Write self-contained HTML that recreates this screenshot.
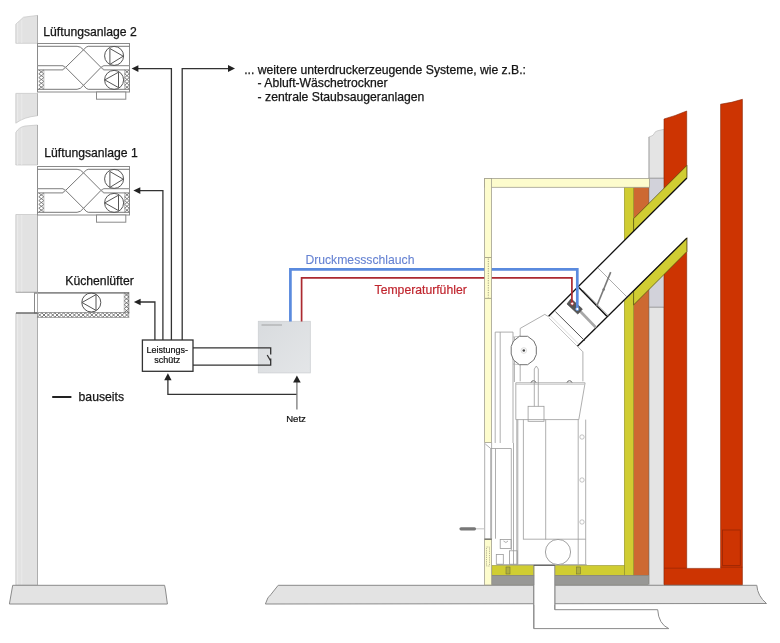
<!DOCTYPE html>
<html><head><meta charset="utf-8">
<style>
html,body{margin:0;padding:0;background:#fff;}
body{width:780px;height:643px;overflow:hidden;position:relative;}
svg{position:absolute;left:0;top:0;will-change:transform;}
text{font-family:"Liberation Sans",sans-serif;}
</style></head>
<body>
<svg width="780" height="643" viewBox="0 0 780 643">
<defs>
  <pattern id="hx" width="5" height="4" patternUnits="userSpaceOnUse">
    <path d="M0 0 L5 4 M5 0 L0 4" stroke="#777" stroke-width="0.8" fill="none"/>
  </pattern>
  <g id="unit">
    <rect x="37.5" y="0.5" width="92" height="48.5" fill="#fff" stroke="#8a8a8a" stroke-width="1"/>
    <g fill="none" stroke="#8a8a8a" stroke-width="1">
      <path d="M37.5 3.3 H77.1 Q80.5 3.3 83.5 6.8 L101 24.4 M129.5 3.3 H88.2 Q86.5 3.3 83.5 6.8 L65.6 24.4" stroke="#777"/>
      <path d="M37.5 46.3 H77.1 Q80.5 46.3 83.5 42.3 L101 24.4 M129.5 46.3 H88.2 Q86.5 46.3 83.5 42.3 L65.6 24.4" stroke="#777"/>
      <path d="M37.5 22.6 H62.5 L65.6 24.4 L62.5 26.9 H37.5 M129.5 22.6 H104 L101 24.4 L104 26.9 H129.5" stroke="#999" stroke-width="1.1"/>
    </g>
    <path d="M38.8 27.00L43.9 30.80M43.9 27.00L38.8 30.80M38.8 30.80L43.9 34.60M43.9 30.80L38.8 34.60M38.8 34.60L43.9 38.40M43.9 34.60L38.8 38.40M38.8 38.40L43.9 42.20M43.9 38.40L38.8 42.20M38.8 42.20L43.9 46.00M43.9 42.20L38.8 46.00" stroke="#666" stroke-width="0.8" fill="none"/><path d="M43.9 27 V46" stroke="#999" stroke-width="0.6"/>
    <path d="M124.6 27.00L129.3 30.80M129.3 27.00L124.6 30.80M124.6 30.80L129.3 34.60M129.3 30.80L124.6 34.60M124.6 34.60L129.3 38.40M129.3 34.60L124.6 38.40M124.6 38.40L129.3 42.20M129.3 38.40L124.6 42.20M124.6 42.20L129.3 46.00M129.3 42.20L124.6 46.00" stroke="#666" stroke-width="0.8" fill="none"/><path d="M124.6 27 V46" stroke="#999" stroke-width="0.6"/>
    <g fill="none" stroke="#555" stroke-width="1">
      <circle cx="114.1" cy="12.9" r="9.5"/>
      <path d="M109.9 5.5 L109.9 21.4 L123.2 13.2 Z"/>
      <circle cx="114.1" cy="36.9" r="9.5"/>
      <path d="M118.5 29.2 L118.5 44.6 L104.8 36.9 Z"/>
    </g>
    <rect x="96.5" y="49" width="29.3" height="7.2" fill="#fff" stroke="#8a8a8a" stroke-width="1"/>
  </g>
</defs>

<!-- ===== LEFT WALL ===== -->
<g fill="#e2e2e2" stroke="#c4c4c4" stroke-width="0.7">
  <path d="M15.8 43.3 L15.8 24.2 L23.5 17.2 L37.5 15.4 L37.5 43.3 Z"/>
  <path d="M15.8 93.4 L37.5 93.4 L37.5 115.7 Q24 117 15.8 123.2 Z"/>
  <path d="M15.8 165 L15.8 132.5 Q19 127 25 126 L37.5 125 L37.5 165 Z"/>
  <path d="M15.8 214.5 L37.5 214.5 L37.5 292.3 L15.8 292.3 Z"/>
  <path d="M15.8 313 L37.5 313 L37.5 585 L15.8 585 Z"/>
</g>
<g stroke="#ececec" stroke-width="0.8" fill="none">
  <path d="M17.6 43 V23 M21.8 43 V20 M17.6 94 V121 M21.8 94 V119.5 M17.6 165 V131 M21.8 165 V128 M17.6 215 V292 M21.8 215 V292 M17.6 313.5 V584.5 M21.8 313.5 V584.5"/>
</g>
<path d="M37.5 15.4 V43.3 M37.5 93.4 V115.7 M37.5 125 V165 M37.5 214.5 V292.3 M37.5 313 V585" stroke="#a8a8a8" stroke-width="0.9" fill="none"/>
<!-- floor slabs -->
<g fill="#e3e3e3" stroke="#8a8a8a" stroke-width="1">
  <path d="M12.7 585.3 L164.6 585.3 L165.5 590 L167.4 604 L9.4 604 Z"/>
  <path d="M278.2 585.3 L756.8 585.3 Q757.5 596 766.5 603.5 L265.4 604 L268 597.5 Q270 596 270.8 594.6 Z"/>
</g>

<!-- ===== VENTILATION UNITS ===== -->
<use href="#unit" y="43"/>
<use href="#unit" y="166"/>

<!-- Kitchen fan -->
<g>
  <rect x="34.5" y="292.5" width="94.3" height="20.5" fill="#fff" stroke="#8a8a8a" stroke-width="1"/>
  <path d="M34.5 292.9 H128.8" stroke="#8c8c8c" stroke-width="1.5"/><path d="M15.8 292.3 H37.5" stroke="#a0a0a0" stroke-width="0.8"/>
  <rect x="37.5" y="312.6" width="91.3" height="4.8" fill="#fff" stroke="#888" stroke-width="0.7"/><path d="M37.50 312.8L41.85 317.2M37.50 317.2L41.85 312.8M41.85 312.8L46.20 317.2M41.85 317.2L46.20 312.8M46.20 312.8L50.54 317.2M46.20 317.2L50.54 312.8M50.54 312.8L54.89 317.2M50.54 317.2L54.89 312.8M54.89 312.8L59.24 317.2M54.89 317.2L59.24 312.8M59.24 312.8L63.59 317.2M59.24 317.2L63.59 312.8M63.59 312.8L67.93 317.2M63.59 317.2L67.93 312.8M67.93 312.8L72.28 317.2M67.93 317.2L72.28 312.8M72.28 312.8L76.63 317.2M72.28 317.2L76.63 312.8M76.63 312.8L80.98 317.2M76.63 317.2L80.98 312.8M80.98 312.8L85.32 317.2M80.98 317.2L85.32 312.8M85.32 312.8L89.67 317.2M85.32 317.2L89.67 312.8M89.67 312.8L94.02 317.2M89.67 317.2L94.02 312.8M94.02 312.8L98.37 317.2M94.02 317.2L98.37 312.8M98.37 312.8L102.71 317.2M98.37 317.2L102.71 312.8M102.71 312.8L107.06 317.2M102.71 317.2L107.06 312.8M107.06 312.8L111.41 317.2M107.06 317.2L111.41 312.8M111.41 312.8L115.76 317.2M111.41 317.2L115.76 312.8M115.76 312.8L120.10 317.2M115.76 317.2L120.10 312.8M120.10 312.8L124.45 317.2M120.10 317.2L124.45 312.8M124.45 312.8L128.80 317.2M124.45 317.2L128.80 312.8" stroke="#555" stroke-width="0.8" fill="none"/>
  <path d="M124.2 293.00L128.8 296.92M128.8 293.00L124.2 296.92M124.2 296.92L128.8 300.84M128.8 296.92L124.2 300.84M124.2 300.84L128.8 304.76M128.8 300.84L124.2 304.76M124.2 304.76L128.8 308.68M128.8 304.76L124.2 308.68M124.2 308.68L128.8 312.60M128.8 308.68L124.2 312.60" stroke="#555" stroke-width="0.8" fill="none"/><path d="M124.2 293 V312.6" stroke="#999" stroke-width="0.6"/>
  <path d="M37.5 292.5 V313" stroke="#aaa" stroke-width="1"/>
  <path d="M16 313 H37.5" stroke="#555" stroke-width="1.2"/>
  <g fill="none" stroke="#555" stroke-width="1">
    <circle cx="91.3" cy="302.5" r="9.5"/>
    <path d="M96 294.6 L96 310.4 L82 302.5 Z"/>
  </g>
</g>

<!-- ===== TEXT LEFT ===== -->
<g font-size="12.2" fill="#141414" stroke="#141414" stroke-width="0.25">
  <text x="43.3" y="35.7">Lüftungsanlage 2</text>
  <text x="44.3" y="156.8">Lüftungsanlage 1</text>
  <text x="65.3" y="284.7">Küchenlüfter</text>
  <text x="244.2" y="73.8">... weitere unterdruckerzeugende Systeme, wie z.B.:</text>
  <text x="257.6" y="87.1">- Abluft-Wäschetrockner</text>
  <text x="257.6" y="100.5">- zentrale Staubsaugeranlagen</text>
  <text x="78.6" y="401.3">bauseits</text>
</g>
<path d="M52.2 397 H71.4" stroke="#222" stroke-width="2"/>

<!-- ===== CONTROL BOX ===== -->
<linearGradient id="cb" x1="0" y1="0" x2="1" y2="1"><stop offset="0" stop-color="#d8dbde"/><stop offset="1" stop-color="#e4e6e8"/></linearGradient>
<rect x="258.3" y="321.3" width="52" height="51.6" fill="url(#cb)" stroke="#cdd0d3" stroke-width="0.8"/>
<path d="M261.5 325 H282" stroke="#8a8a8a" stroke-width="0.7"/>
<!-- ===== WIRING ===== -->
<g fill="none" stroke="#333" stroke-width="1.3">
  <path d="M137 68.6 H171.4 V340"/>
  <path d="M182.2 340 V68.6 H228.5"/>
  <path d="M139 190.6 H162.9 V340"/>
  <path d="M140 302 H154.9 V340"/>
  <rect x="142.4" y="340" width="50.6" height="31.3"/>
  <path d="M193 347.8 H270.7 V354.5 M267.2 355 L270.7 361 M270.7 358.5 V365.1 H193"/>
  <path d="M167.9 380 V394.4 H296.9"/>
  <path d="M296.9 409.6 V382" stroke="#7a7a7a"/>
</g>
<g fill="#222">
  <path d="M131.6 68.6 L138.4 65.3 L138.4 71.9 Z"/>
  <path d="M235 68.5 L228 65 L228 72 Z"/>
  <path d="M133.4 190.6 L140.3 187.3 L140.3 193.9 Z"/>
  <path d="M133.9 302 L140.6 298.7 L140.6 305.3 Z"/>
  <path d="M167.9 373.3 L164.2 380.2 L171.6 380.2 Z"/>
  <path d="M296.9 375.6 L293.1 382.6 L300.7 382.6 Z"/>
</g>
<g font-size="9" fill="#111" stroke="#111" stroke-width="0.2" text-anchor="middle">
  <text x="167.2" y="352.8">Leistungs-</text>
  <text x="167.2" y="363.3">schütz</text>
  <text x="296" y="422" font-size="9.6">Netz</text>
</g>


<!-- ===== RIGHT: WALL LAYERS ===== -->
<!-- duct below floor -->
<path d="M533.8 565 V628.6 H668.8 Q658.5 624 657.7 609.7 H554.8 V565" fill="#fff" stroke="#8a8a8a" stroke-width="1"/>
<!-- light gray strip -->
<path d="M648.7 584.7 V137 L651 136.2 Q653.6 135.6 654.2 133.5 Q655 131.3 657.5 130.8 L664 129.3 V584.7 Z" fill="#e4e4e4" stroke="#b4b4b4" stroke-width="0.6"/>
<path d="M648.7 178.2 H664 V188.3 L648.7 203.6 Z" fill="#d2d2da"/>
<path d="M648.7 289.8 L664 274.5 V307.2 H648.7 Z" fill="#d2d2da"/>
<path d="M648.7 307.2 H664 M648.7 178.2 H664" stroke="#8a8a8a" stroke-width="0.8"/><path d="M649.2 137 V584.7" stroke="#a0a0a0" stroke-width="0.7"/>
<!-- orange -->
<rect x="633.6" y="187" width="15.1" height="388.3" fill="#cd6932" stroke="#9a5028" stroke-width="0.6"/>
<!-- red chimney -->
<path d="M664 584.7 V119 Q675 116 686.7 111 V568.4 H720.6 V104.2 Q731 103 742.4 99.3 V584.7 Z" fill="#cd3402" stroke="#8a2404" stroke-width="0.6"/>
<rect x="722.6" y="530" width="17.7" height="35.6" fill="none" stroke="#9a2604" stroke-width="0.8"/>
<path d="M664 568.2 H686.7 M720.6 567.2 H742.4" stroke="#9a2604" stroke-width="0.7"/>
<!-- yellow-green insulation -->
<g fill="#d0cd32" stroke="#8f8f28" stroke-width="0.6">
  <rect x="624.3" y="187" width="9.3" height="388.3"/>
  <rect x="491.8" y="565.6" width="132.5" height="9.7"/>
</g>
<!-- gray screed -->
<rect x="491.8" y="575.3" width="156.9" height="9.4" fill="#989896" stroke="#7a7a70" stroke-width="0.5"/>
<!-- duct opening through layers -->
<rect x="534.3" y="565" width="20.5" height="40" fill="#fff"/>
<path d="M533.8 565 V628.6 M554.8 565 V609.7" stroke="#8a8a8a" stroke-width="1"/>
<path d="M533.8 565.3 H554.8" stroke="#555" stroke-width="1.2"/>
<!-- feet -->
<g fill="#b0b040" stroke="#6a6a30" stroke-width="0.5">
  <rect x="506" y="567" width="4" height="7"/>
  <rect x="576.5" y="567" width="4" height="7"/>
</g>

<!-- ===== FLUE PIPE ===== -->
<path d="M548.6 316.3 L688 176.9 L688 236.8 L586 339 L577.4 346.3 Z" fill="#fff"/>
<g fill="#d0cd32" stroke="#4a4a10" stroke-width="0.7">
  <path d="M686.9 165.4 L686.9 178 L633.6 231.3 L633.6 218.7 Z"/>
  <path d="M686.9 237.8 L686.9 251.6 L633.6 304.9 L633.6 291.1 Z"/>
</g>

<g fill="none" stroke="#111" stroke-width="1.3">
  <path d="M548.6 316.3 L686.9 178"/>
  <path d="M577.4 346.3 L686.9 238.1"/>
  <path d="M578.9 287.4 L606.9 316.2" stroke-width="1.5"/>
</g>
<g fill="none" stroke="#888" stroke-width="0.7">
  <path d="M598.2 268.2 L626.8 296.8"/>
  <path d="M549 318 L577.3 346.3" stroke="#b5b5b5" stroke-width="0.8"/>
  <path d="M550.6 316 L578.8 344.3" stroke="#c5c5c5" stroke-width="0.6"/>
  <path d="M555.4 311.6 L584.8 340.8" stroke="#555" stroke-width="1"/>
  <path d="M583 290 L608.6 315.8" stroke="#999" stroke-width="0.6"/>
</g>
<path d="M610.7 272.1 L596.7 306.3" stroke="#7a7a7a" stroke-width="1.6"/><circle cx="603.7" cy="289.5" r="1.2" fill="#777"/>
<path d="M579 310 L596 327.6" stroke="#a8a8a8" stroke-width="2.8"/>
<path d="M567 304 L571 298.7 L582.4 309 L577.8 314.1 Z" fill="#555" stroke="#3a3a3a" stroke-width="0.6"/>

<!-- ===== STOVE ===== -->
<g fill="none" stroke="#9a9a9a" stroke-width="0.8">
  <path d="M484.7 442.5 V539 M491.6 442.5 V539"/>
  <path d="M495.2 443 V332.1 H513 V443 M500.2 332.1 V443 M514.4 337 V382 M511.3 448.5 V550 M513.5 443 V565 M516.8 419.6 V565"/>
  <path d="M520.2 381.3 V328.4 L544.8 314.4 L548.7 316.8"/>
  <path d="M577.4 346.3 L582.9 351.8 V381.3"/>
  <path d="M515.8 382.8 H585.1 L578.8 419.6 H515.8 Z"/>
  <path d="M516 384.3 H584.5" stroke="#bbb" stroke-width="0.8"/>
  <path d="M531 382.6 A2.6 2.6 0 0 1 536 382.6 M567 382.6 A2.6 2.6 0 0 1 572 382.6" stroke="#666" stroke-width="1"/>
  <path d="M538.3 369 V406.3 M534.3 369 V406.3 M534.3 369 L536.3 366 L538.3 369"/>
  <rect x="528.1" y="406.3" width="15.9" height="15"/>
  <path d="M517.8 419.6 V564.6 M523.4 419.6 V539.5 M545.7 419.6 V539.5 M578.2 419.6 V564.6 M585.7 419.6 V564.6"/>
  <path d="M523.4 539.2 H585.8 M496.6 564.6 H586.7"/>
  <rect x="496.3" y="554.6" width="7" height="9.6"/>
  <rect x="500.2" y="539.5" width="10.9" height="8.9"/>
  <rect x="509.5" y="550.8" width="7.8" height="13.4"/>
  <path d="M503.5 541 Q506 544 508 541" />
  <path d="M490.7 448.5 H511.3 M490.7 448.5 V538.7 M495.5 448.5 V538.7 M485.3 444 L490.7 448.5"/>
</g>
<g fill="none" stroke="#aaa" stroke-width="0.7">
  <circle cx="582" cy="437" r="2.2"/><circle cx="582" cy="480" r="2.2"/><circle cx="582" cy="522" r="2.2"/>
</g>
<path d="M513 337 L520 336.3 M513 364 L520 364.7" stroke="#aaa" stroke-width="0.7"/>
<path d="M519.4 336.3 H527.6 L533.8 341 L536.3 346.5 V354.5 L533.8 360 L527.6 364.7 H519.4 L513.5 360 L511.2 354 V346.5 L513.5 341 Z" fill="#fff" stroke="#707070" stroke-width="1"/>
<circle cx="523.8" cy="350.5" r="1.3" fill="#444"/><circle cx="523.8" cy="350.5" r="2.8" fill="none" stroke="#bbb" stroke-width="0.5"/>
<circle cx="558" cy="552" r="12.6" fill="#fff" stroke="#8a8a8a" stroke-width="0.8"/>
<path d="M461 528.8 H474.5" stroke="#777" stroke-width="3.2" stroke-linecap="round"/><path d="M476 528.8 H484" stroke="#ccc" stroke-width="1.2"/>

<!-- ===== HOSES ===== -->
<path d="M290.4 321.5 V269.4 H577.3 V308.5" fill="none" stroke="#5a8ade" stroke-width="2.7"/>
<path d="M301.6 321.5 V277.9 H571.9 V302.5" fill="none" stroke="#ac2a30" stroke-width="1.7"/>
<circle cx="572.2" cy="303.6" r="1.6" fill="#fff" stroke="#ac2a30" stroke-width="0.8"/>
<circle cx="577.3" cy="309" r="1.6" fill="#fff" stroke="#5b8fe0" stroke-width="0.8"/>
<text x="305.4" y="264" font-size="12.2" fill="#6582d2" stroke="#6582d2" stroke-width="0.1">Druckmessschlauch</text>
<text x="374.6" y="293.5" font-size="12.2" fill="#c0262f" stroke="#c0262f" stroke-width="0.2">Temperaturfühler</text>


<!-- frame (light yellow) drawn over hoses -->
<g fill="#fdfccd" stroke="#a2a090" stroke-width="0.8">
  <rect x="484.6" y="178.5" width="165" height="8.8"/>
  <rect x="484.6" y="178.5" width="7" height="264"/>
  <rect x="484.6" y="539" width="7" height="46"/>
</g>
<path d="M485 257.5 H491.2 M485 298.4 H491.2" stroke="#8a8670" stroke-width="0.7"/>
<path d="M484.6 539.2 H491.6" stroke="#555" stroke-width="1"/>
<path d="M488.3 258.5 V297.5" stroke="#8a8670" stroke-width="0.8" stroke-dasharray="1.2 1.2"/>
<path d="M486.5 547 H489.5 V566 H486.5 Z" fill="none" stroke="#8a8670" stroke-width="0.6" stroke-dasharray="1.2 1"/>
</svg>
</body></html>
